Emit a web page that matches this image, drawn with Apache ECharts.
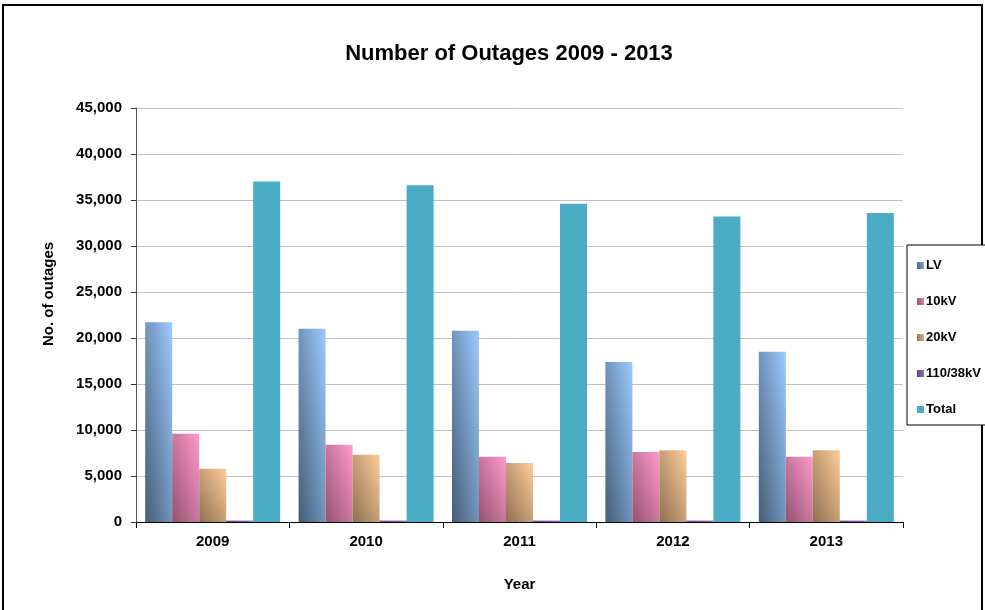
<!DOCTYPE html>
<html>
<head>
<meta charset="utf-8">
<script src="https://cdn.jsdelivr.net/npm/echarts@6/dist/echarts.min.js"></script>
<style>
  html, body { margin: 0; padding: 0; background: #fff; }
  #chart { width: 985px; height: 610px; }
</style>
</head>
<body>
<div id="chart"></div>
<script>
const years = ['2009', '2010', '2011', '2012', '2013']
const lv = [21700, 21000, 20800, 17400, 18500]
const kv10 = [9600, 8400, 7100, 7600, 7100]
const kv20 = [5800, 7300, 6400, 7800, 7800]
const kv110 = [150, 150, 150, 150, 150]
const total = [37000, 36600, 34600, 33200, 33600]
const yTicks = [0, 5000, 10000, 15000, 20000, 25000, 30000, 35000, 40000, 45000]

const font = 'Liberation Sans, Arial, sans-serif'

// [dark, light] per series, null = flat fill
const shades = [
  ['#455c76', '#9ccbff'],
  ['#94536f', '#ff99cc'],
  ['#8e7151', '#ffcc99'],
  ['#5e3f80', '#a680e0'],
  null
]
const flat = ['#7fa8d8', '#d982ad', '#c9a27a', '#8060b0', '#4bacc6']

// excel style diagonal fill: dark bottom-left corner, light top-right corner
function grad (dark, light, r) {
  const k = 1 + r * r
  return new echarts.graphic.LinearGradient(0, 1, 2 / k, 1 - 2 * r * r / k, [
    { offset: 0, color: dark },
    { offset: 1, color: light }
  ])
}

const bar = (name, data, color) => ({
  name: name,
  type: 'bar',
  data: data,
  barGap: '0%',
  barCategoryGap: '12%',
  itemStyle: { color: color },
  emphasis: { disabled: true }
})

const chart = echarts.init(document.getElementById('chart'))
chart.setOption({
  animation: false,
  textStyle: { fontFamily: font },
  title: {
    text: 'Number of Outages 2009 - 2013',
    left: 504,
    textAlign: 'center',
    top: 38,
    textStyle: { fontSize: 22, fontWeight: 'bold', color: '#000', fontFamily: font }
  },
  graphic: [
    {
      type: 'rect',
      shape: { x: 3, y: 5, width: 979, height: 620 },
      style: { fill: 'none', stroke: '#000', lineWidth: 2 },
      z: -1
    },
    {
      type: 'rect',
      shape: { x: 907, y: 245, width: 90, height: 180 },
      style: { fill: '#fff', stroke: '#000', lineWidth: 1 },
      z: 0
    }
  ],
  legend: {
    orient: 'vertical',
    left: 912,
    top: 254,
    itemWidth: 7,
    itemHeight: 7,
    itemGap: 23,
    icon: 'rect',
    textStyle: { fontSize: 13, fontWeight: 'bold', color: '#000', padding: [0, 0, 0, -3] },
    data: ['LV', '10kV', '20kV', '110/38kV', 'Total']
  },
  grid: { left: 136, right: 82, top: 108, bottom: 88 },
  xAxis: {
    type: 'category',
    data: years,
    name: 'Year',
    nameLocation: 'middle',
    nameGap: 55,
    nameTextStyle: { fontSize: 15, fontWeight: 'bold', color: '#000' },
    axisLine: { lineStyle: { color: '#000', width: 1 } },
    axisTick: { show: true, length: 6, interval: 0, lineStyle: { color: '#000' } },
    axisLabel: { fontSize: 15, fontWeight: 'bold', color: '#000', margin: 12 }
  },
  yAxis: {
    type: 'value',
    min: yTicks[0],
    max: yTicks[yTicks.length - 1],
    interval: yTicks[1] - yTicks[0],
    name: 'No. of outages',
    nameLocation: 'middle',
    nameGap: 80,
    nameRotate: 90,
    nameTextStyle: { fontSize: 15, fontWeight: 'bold', color: '#000', padding: [0, 0, 0, 42] },
    axisLine: { show: true, lineStyle: { color: '#555' } },
    axisTick: { show: true, length: 5, lineStyle: { color: '#333' } },
    axisLabel: {
      fontSize: 15,
      fontWeight: 'bold',
      color: '#000',
      margin: 14,
      formatter: v => v.toLocaleString('en-US')
    },
    splitLine: { lineStyle: { color: '#c0c0c0', width: 1 } }
  },
  series: [
    bar('LV', lv, flat[0]),
    bar('10kV', kv10, flat[1]),
    bar('20kV', kv20, flat[2]),
    bar('110/38kV', kv110, flat[3]),
    bar('Total', total, flat[4])
  ]
})

// second pass: give each bar its own gradient, using the laid out bar size
const seriesData = [lv, kv10, kv20, kv110, total]
const model = chart.getModel()
chart.setOption({
  series: seriesData.map((vals, i) => {
    if (!shades[i]) return {}
    const data = model.getSeriesByIndex(i).getData()
    return {
      itemStyle: { color: grad(shades[i][0], shades[i][1], 0.5) },
      data: vals.map((v, j) => {
        const l = data.getItemLayout(j)
        const r = Math.abs(l.width / (l.height || 1))
        return { value: v, itemStyle: { color: grad(shades[i][0], shades[i][1], r) } }
      })
    }
  })
})
</script>
</body>
</html>
